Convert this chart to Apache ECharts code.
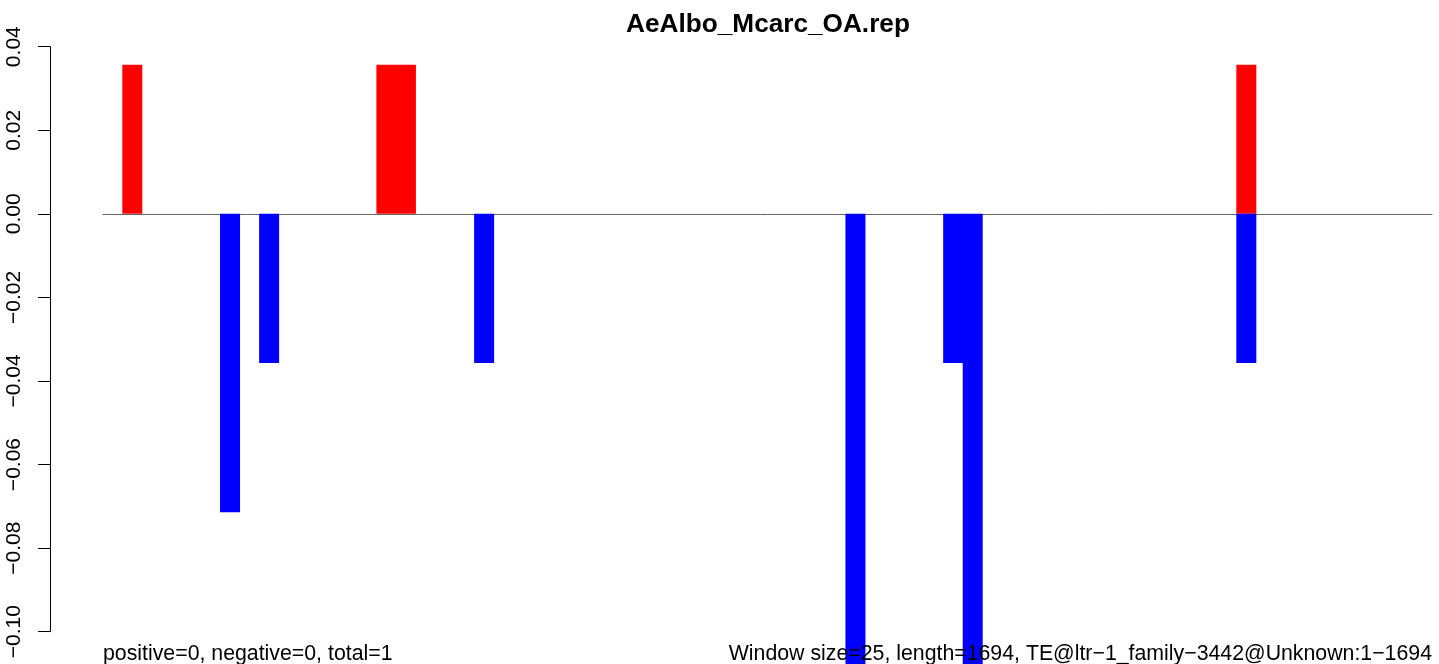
<!DOCTYPE html>
<html>
<head>
<meta charset="utf-8">
<script src="https://cdn.jsdelivr.net/npm/echarts@6/dist/echarts.min.js"></script>
<style>
html,body{margin:0;padding:0;background:#fff;}
#chart{width:1439px;height:664px;}
</style>
</head>
<body>
<div id="chart"></div>
<script>
// 68 windows (window size 25, length 1694)
const windowIndex = Array.from({length: 68}, (_, i) => String(i + 1));
// positive (red) values per window
const positiveValues = {2: 0.0357, 15: 0.0357, 16: 0.0357, 59: 0.0357};
// negative (blue) values per window
const negativeValues = {7: -0.0714, 9: -0.0357, 20: -0.0357, 39: -0.1429, 44: -0.0357, 45: -0.1429, 59: -0.0357};
const yTicks = [-0.10, -0.08, -0.06, -0.04, -0.02, 0.00, 0.02, 0.04];
const titleText = 'AeAlbo_Mcarc_OA.rep';
const leftNote = 'positive=0, negative=0, total=1';
const rightNote = 'Window size=25, length=1694, TE@ltr\u22121_family\u22123442@Unknown:1\u22121694';

const redData = windowIndex.map(k => positiveValues[k] !== undefined ? positiveValues[k] : null);
const blueData = windowIndex.map(k => negativeValues[k] !== undefined ? negativeValues[k] : null);

const chart = echarts.init(document.getElementById('chart'), null, {renderer: 'canvas'});
const FONT = 'Liberation Sans, Arial, Helvetica, sans-serif';
chart.setOption({
  animation: false,
  backgroundColor: '#ffffff',
  grid: {left: 103, width: 1329, top: 46.7, height: 585, containLabel: false},
  xAxis: {
    type: 'category',
    data: windowIndex,
    axisLine: {onZero: true, lineStyle: {color: '#666666', width: 1}},
    axisTick: {show: false},
    axisLabel: {show: false},
    splitLine: {show: false}
  },
  yAxis: {
    type: 'value',
    min: yTicks[0],
    max: yTicks[yTicks.length - 1],
    interval: 0.02,
    offset: 53,
    axisLine: {show: true, lineStyle: {color: '#000', width: 1}},
    axisTick: {show: true, length: 12, lineStyle: {color: '#000', width: 1}},
    splitLine: {show: false},
    axisLabel: {
      rotate: 90,
      margin: 25,
      fontFamily: FONT,
      fontSize: 21,
      color: '#000',
      formatter: v => {
        const r = Math.round(v * 100) / 100;
        if (Math.abs(r) < 1e-9) return '0.00';
        return r.toFixed(2).replace('-', '\u2212');
      }
    }
  },
  series: [
    {
      type: 'bar', name: 'positive', data: redData,
      barWidth: 20, barGap: '-100%', clip: false, z: 3,
      itemStyle: {color: '#ff0000'}
    },
    {
      type: 'bar', name: 'negative', data: blueData,
      barWidth: 20, barGap: '-100%', clip: false, z: 3,
      itemStyle: {color: '#0000ff'}
    }
  ],
  graphic: [
    {type: 'text', x: 768, y: 25, z: 10,
      style: {text: titleText, fontFamily: FONT, fontWeight: 'bold', fontSize: 26.2, fill: '#000', textAlign: 'center', textVerticalAlign: 'middle'}},
    {type: 'text', x: 103, y: 654, z: 10,
      style: {text: leftNote, fontFamily: FONT, fontSize: 21.3, fill: '#000', textAlign: 'left', textVerticalAlign: 'middle'}},
    {type: 'text', x: 1432, y: 654, z: 10,
      style: {text: rightNote, fontFamily: FONT, fontSize: 21.3, fill: '#000', textAlign: 'right', textVerticalAlign: 'middle'}}
  ]
});
</script>
</body>
</html>
